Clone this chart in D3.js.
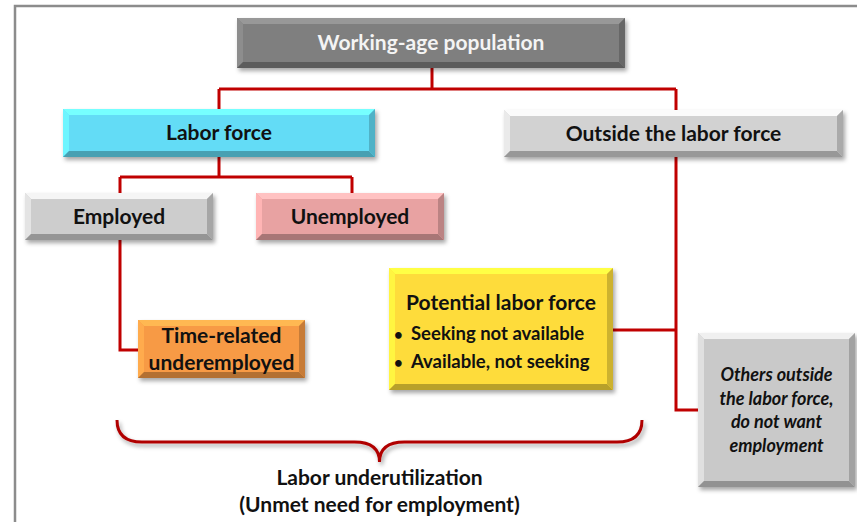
<!DOCTYPE html>
<html>
<head>
<meta charset="utf-8">
<script src="https://cdn.jsdelivr.net/npm/d3@7"></script>
<style>
  body { margin: 0; background: #fff; }
  svg { display: block; }
</style>
</head>
<body>
<svg id="chart" width="857" height="522"></svg>
<script>
// node labels
const nodeIds = ['work', 'labor', 'outside', 'employed', 'unemployed', 'timeRel', 'potential', 'others'];
const nodeLines = [
    ['Working-age population'],
    ['Labor force'],
    ['Outside the labor force'],
    ['Employed'],
    ['Unemployed'],
    ['Time-related', 'underemployed'],
    ['Potential labor force'],
    ['Others outside', 'the labor force,', 'do not want', 'employment'],
];
const potentialBullets = ['Seeking not available', 'Available, not seeking'];
const braceLabel = ['Labor underutilization', '(Unmet need for employment)'];

// layout (pixels)
const layout = {
    work:       { x: 237, y: 18,  w: 388, h: 50,  fill: '#7f7f7f', text: '#f4f4f4', size: 21, lh: 27 },
    labor:      { x: 63,  y: 109, w: 312, h: 48,  fill: '#63dcf6', text: '#111', size: 21, lh: 27 },
    outside:    { x: 504, y: 110, w: 339, h: 47,  fill: '#d2d2d2', text: '#111', size: 21, lh: 27 },
    employed:   { x: 25,  y: 193, w: 188, h: 47,  fill: '#cdcdcd', text: '#111', size: 21, lh: 27 },
    unemployed: { x: 256, y: 193, w: 188, h: 47,  fill: '#e8a2a2', text: '#111', size: 21, lh: 27 },
    timeRel:    { x: 138, y: 320, w: 167, h: 58,  fill: '#f79a45', text: '#111', size: 21, lh: 27 },
    potential:  { x: 389, y: 268, w: 224, h: 122, fill: '#fedc3a', text: '#111', size: 21 },
    others:     { x: 698, y: 333, w: 157, h: 154, fill: '#c9c9c9', text: '#111', size: 18, lh: 23.5, italic: true },
};

const svg = d3.select('#chart');
const font = 'Lato, "Open Sans", sans-serif';

// frame
svg.append('path')
    .attr('d', 'M15,522 L15,6 L857,6')
    .attr('fill', 'none')
    .attr('stroke', '#8c8c8c')
    .attr('stroke-width', 2.5);

const defs = svg.append('defs');
defs.append('filter')
    .attr('id', 'shadow')
    .attr('x', '-10%').attr('y', '-10%').attr('width', '130%').attr('height', '140%')
    .append('feDropShadow')
    .attr('dx', 2).attr('dy', 3).attr('stdDeviation', 2)
    .attr('flood-color', '#000').attr('flood-opacity', 0.35);

// connectors
const red = '#c00000';
const links = [
    [[432, 68], [432, 89]],
    [[219, 89], [676, 89]],
    [[219, 89], [219, 109]],
    [[676, 89], [676, 110]],
    [[219, 157], [219, 177]],
    [[120, 177], [352, 177]],
    [[120, 177], [120, 193]],
    [[352, 177], [352, 193]],
    [[120, 240], [120, 350], [138, 350]],
    [[676, 157], [676, 410], [698, 410]],
    [[613, 330], [676, 330]],
];
const line = d3.line();
svg.append('g')
    .selectAll('path')
    .data(links)
    .join('path')
    .attr('d', line)
    .attr('fill', 'none')
    .attr('stroke', red)
    .attr('stroke-width', 3)
    .attr('stroke-linejoin', 'miter');

// bevelled boxes
const bev = 6;
const boxes = svg.append('g')
    .selectAll('g')
    .data(nodeIds)
    .join('g')
    .attr('transform', (d) => 'translate(' + layout[d].x + ',' + layout[d].y + ')');

boxes.append('rect')
    .attr('width', (d) => layout[d].w)
    .attr('height', (d) => layout[d].h)
    .attr('fill', (d) => layout[d].fill)
    .attr('filter', 'url(#shadow)');

const faces = [
    { c: (c) => d3.color(c).brighter(0.5), p: (w, h) => [[0, 0], [w, 0], [w - bev, bev], [bev, bev]] },
    { c: (c) => d3.color(c).brighter(0.3), p: (w, h) => [[0, 0], [bev, bev], [bev, h - bev], [0, h]] },
    { c: (c) => d3.color(c).darker(0.9),   p: (w, h) => [[0, h], [bev, h - bev], [w - bev, h - bev], [w, h]] },
    { c: (c) => d3.color(c).darker(0.6),   p: (w, h) => [[w, 0], [w, h], [w - bev, h - bev], [w - bev, bev]] },
];
faces.forEach((f) => {
    boxes.append('polygon')
        .attr('points', (d) => f.p(layout[d].w, layout[d].h).map((p) => p.join(',')).join(' '))
        .attr('fill', (d) => f.c(layout[d].fill));
});

// labels
boxes.filter((d) => d !== 'potential')
    .each(function (d) {
        const L = layout[d];
        const lines = nodeLines[nodeIds.indexOf(d)];
        const y0 = L.h / 2 - (lines.length - 1) * L.lh / 2;
        d3.select(this).append('text')
            .attr('text-anchor', 'middle')
            .attr('font-family', font)
            .attr('font-weight', 'bold')
            .attr('font-style', L.italic ? 'italic' : 'normal')
            .attr('font-size', L.size)
            .attr('fill', L.text)
            .selectAll('tspan')
            .data(lines)
            .join('tspan')
            .attr('x', L.w / 2)
            .attr('y', (t, i) => y0 + i * L.lh)
            .attr('dy', '0.35em')
            .text((t) => t);
    });

const pot = boxes.filter((d) => d === 'potential');
pot.append('text')
    .attr('x', layout.potential.w / 2)
    .attr('y', 42)
    .attr('text-anchor', 'middle')
    .attr('font-family', font)
    .attr('font-weight', 'bold')
    .attr('font-size', 21)
    .attr('fill', '#111')
    .text(nodeLines[nodeIds.indexOf('potential')][0]);
const bl = pot.selectAll('.bullet')
    .data(potentialBullets)
    .join('g')
    .attr('class', 'bullet')
    .attr('transform', (d, i) => 'translate(0,' + (72 + i * 28) + ')');
bl.append('text')
    .attr('x', 5)
    .attr('font-family', font)
    .attr('font-weight', 'bold')
    .attr('font-size', 15)
    .attr('fill', '#111')
    .text('\u2022');
bl.append('text')
    .attr('x', 22)
    .attr('font-family', font)
    .attr('font-weight', 'bold')
    .attr('font-size', 18.5)
    .attr('fill', '#111')
    .text((d) => d);

// brace
const bx0 = 117, bx1 = 642, bTop = 420, bMid = 442, bTip = 462;
const bc = (bx0 + bx1) / 2;
const brace = 'M' + bx0 + ',' + bTop +
    ' Q' + bx0 + ',' + bMid + ' ' + (bx0 + 25) + ',' + bMid +
    ' L' + (bc - 25) + ',' + bMid +
    ' Q' + bc + ',' + bMid + ' ' + bc + ',' + bTip +
    ' Q' + bc + ',' + bMid + ' ' + (bc + 25) + ',' + bMid +
    ' L' + (bx1 - 25) + ',' + bMid +
    ' Q' + bx1 + ',' + bMid + ' ' + bx1 + ',' + bTop;
svg.append('path')
    .attr('d', brace)
    .attr('fill', 'none')
    .attr('stroke', '#b00000')
    .attr('stroke-width', 3)
    .attr('filter', 'url(#shadow)');

svg.append('text')
    .attr('text-anchor', 'middle')
    .attr('font-family', font)
    .attr('font-weight', 'bold')
    .attr('font-size', 21)
    .attr('fill', '#111')
    .selectAll('tspan')
    .data(braceLabel)
    .join('tspan')
    .attr('x', bc)
    .attr('y', (d, i) => 485 + i * 27)
    .text((d) => d);
</script>
</body>
</html>
